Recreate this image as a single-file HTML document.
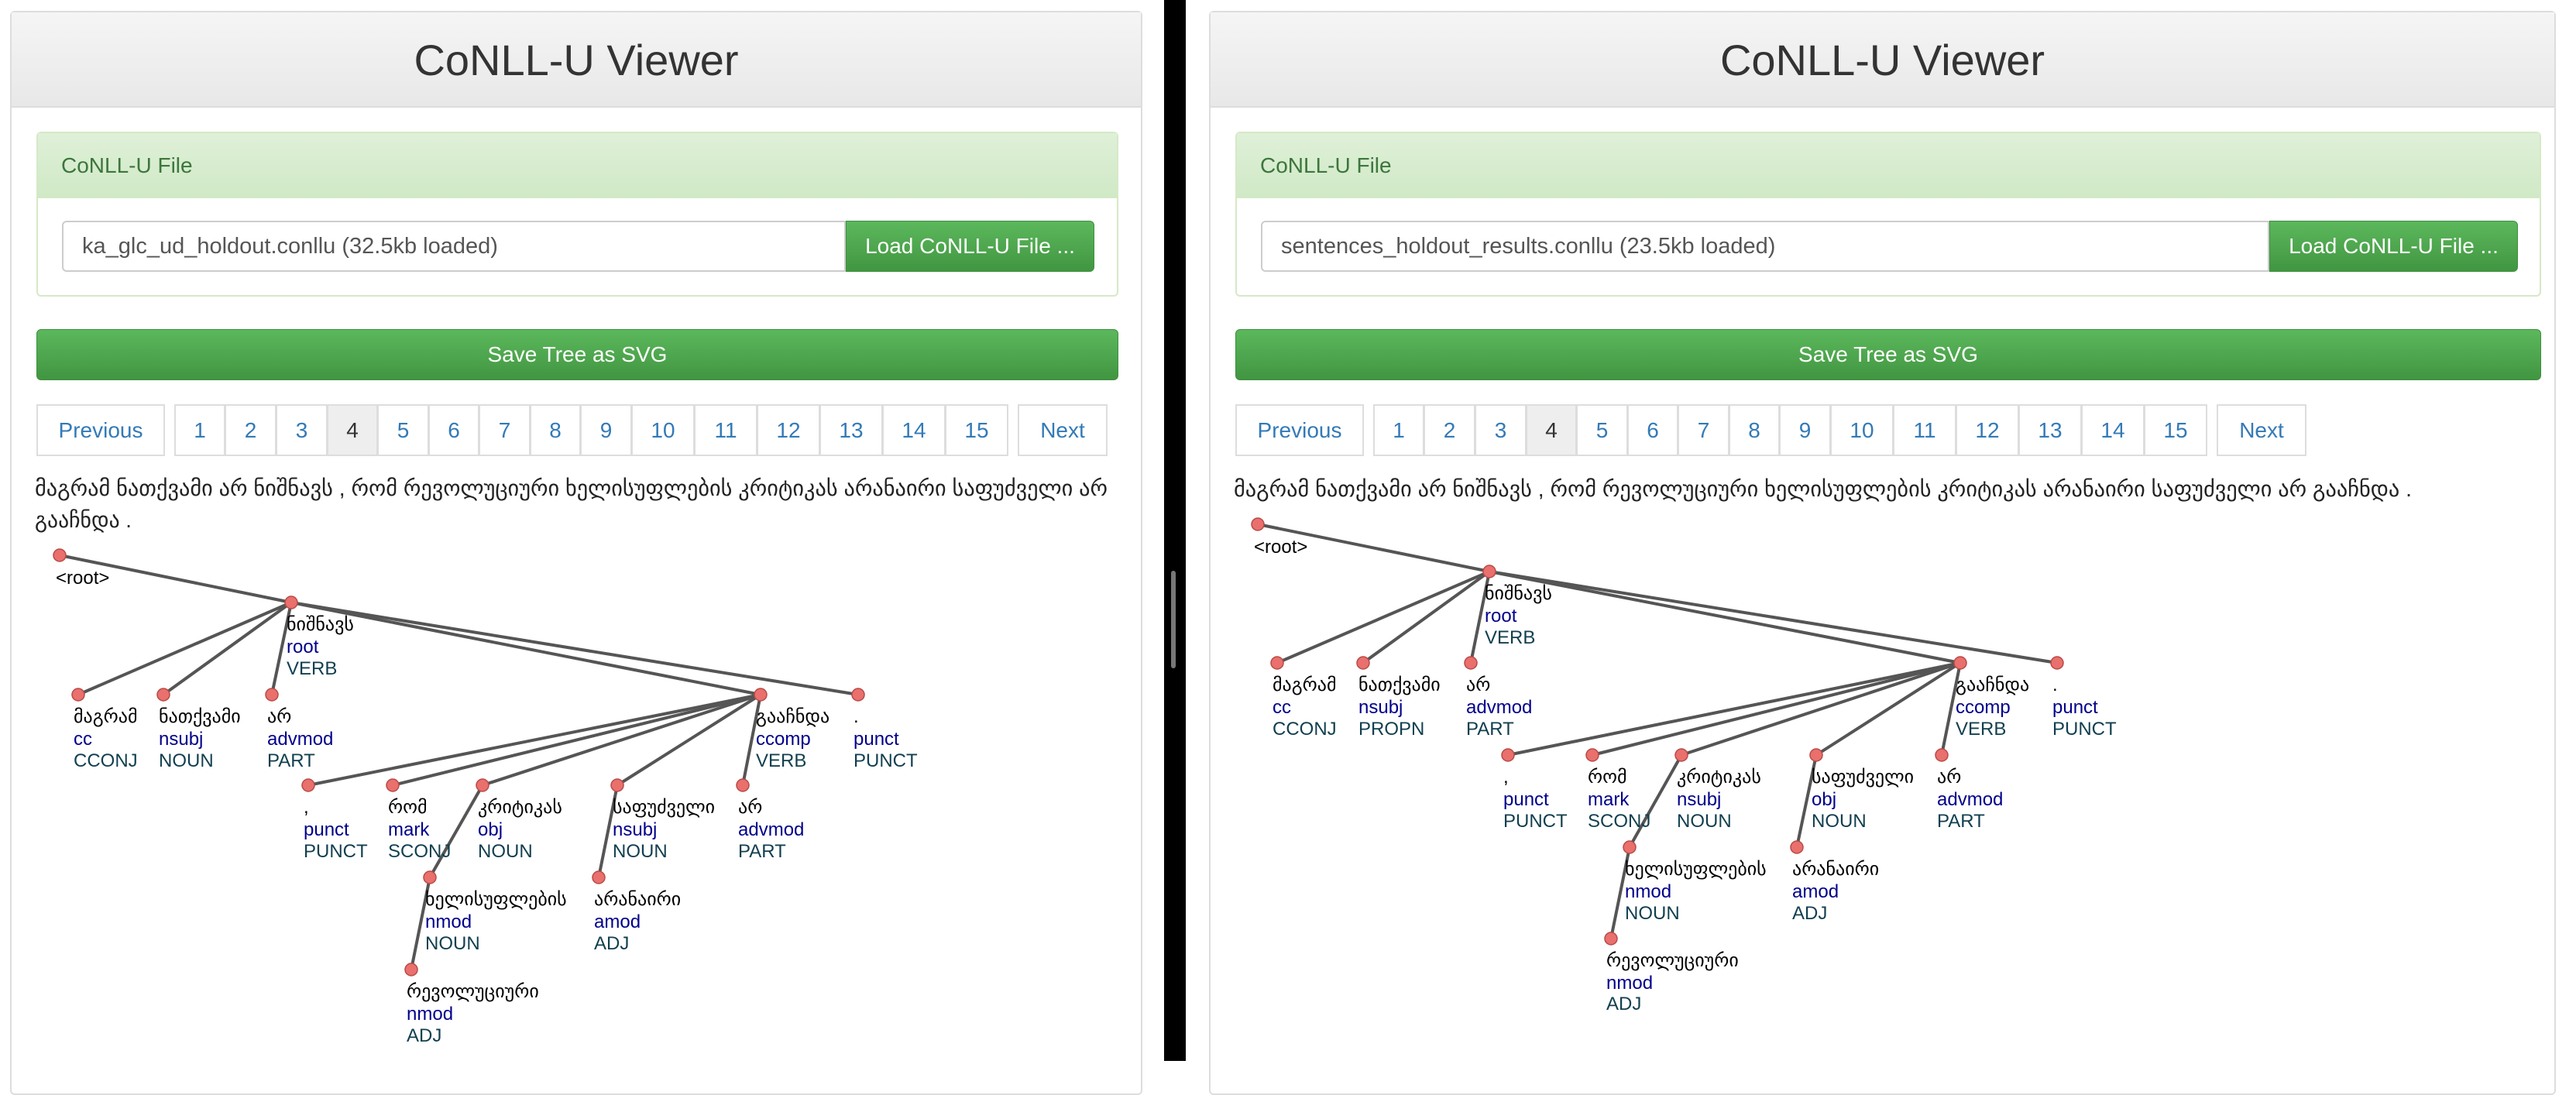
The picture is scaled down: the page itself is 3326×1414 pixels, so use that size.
<!DOCTYPE html>
<html><head><meta charset="utf-8"><style>
*{box-sizing:border-box;margin:0;padding:0}
body{width:3326px;height:1370px;background:#fff;position:relative;overflow:hidden;font-family:"Liberation Sans","DejaVu Sans",sans-serif}
.pn{position:absolute;top:14px;height:1400px;border:2px solid #ddd;border-radius:6px;background:#fff}
.hd{position:absolute;left:0;right:0;top:0;height:123px;background:linear-gradient(#f5f5f5,#e8e8e8);border-bottom:2px solid #ddd;text-align:center;font-size:56px;line-height:123px;color:#333}
.gp{position:absolute;left:32px;top:154px;height:213px;border:2px solid #d6e9c6;border-radius:6px;background:#fff}
.gh{position:absolute;left:0;right:0;top:0;height:84px;background:linear-gradient(#dff0d8,#d0e9c6);color:#3c763d;font-size:28px;line-height:84px;padding-left:30px;border-bottom:1px solid #d6e9c6}
.in{position:absolute;left:31px;top:113px;height:66px;border:2px solid #ccc;border-radius:6px 0 0 6px;font-size:29px;line-height:62px;padding-left:24px;color:#555;background:#fff}
.lb{position:absolute;top:113px;height:66px;width:321px;background:linear-gradient(#5cb85c,#419641);border:1px solid #3e8f3e;border-radius:0 6px 6px 0;color:#fff;font-size:28px;line-height:64px;text-align:center}
.sv{position:absolute;left:32px;top:409px;height:66px;background:linear-gradient(#5cb85c,#419641);border:1px solid #3e8f3e;border-radius:6px;color:#fff;font-size:28px;line-height:64px;text-align:center}
.pg{position:absolute;top:506px;height:67px;border:2px solid #ddd;color:#337ab7;font-size:28px;line-height:63px;text-align:center;background:#fff}
</style></head><body>
<div style="position:absolute;left:1503px;top:0;width:28px;height:1370px;background:#000"></div>
<div style="position:absolute;left:1512px;top:737px;width:6px;height:126px;background:#777;border-radius:3px"></div>

<div class="pn" style="left:13px;width:1462px">
<div class="hd">CoNLL-U Viewer</div>
<div class="gp" style="width:1397px"><div class="gh">CoNLL-U File</div>
<div class="in" style="width:1012px">ka_glc_ud_holdout.conllu (32.5kb loaded)</div>
<div class="lb" style="left:1043px">Load CoNLL-U File ...</div></div>
<div class="sv" style="width:1397px">Save Tree as SVG</div>
<div class="pg" style="left:32px;width:166px">Previous</div>
<div class="pg" style="left:210px;width:66px">1</div><div class="pg" style="left:275px;width:67px">2</div><div class="pg" style="left:341px;width:67px">3</div><div class="pg" style="left:407px;width:66px;background:#eee;color:#333">4</div><div class="pg" style="left:472px;width:67px">5</div><div class="pg" style="left:538px;width:66px">6</div><div class="pg" style="left:603px;width:67px">7</div><div class="pg" style="left:669px;width:66px">8</div><div class="pg" style="left:734px;width:67px">9</div><div class="pg" style="left:800px;width:82px">10</div><div class="pg" style="left:881px;width:82px">11</div><div class="pg" style="left:962px;width:82px">12</div><div class="pg" style="left:1043px;width:82px">13</div><div class="pg" style="left:1124px;width:82px">14</div><div class="pg" style="left:1205px;width:82px">15</div>
<div class="pg" style="left:1299px;width:116px">Next</div>
</div>

<div class="pn" style="left:1561px;width:1739px">
<div class="hd">CoNLL-U Viewer</div>
<div class="gp" style="width:1686px"><div class="gh">CoNLL-U File</div>
<div class="in" style="width:1302px">sentences_holdout_results.conllu (23.5kb loaded)</div>
<div class="lb" style="left:1333px">Load CoNLL-U File ...</div></div>
<div class="sv" style="width:1686px">Save Tree as SVG</div>
<div class="pg" style="left:32px;width:166px">Previous</div>
<div class="pg" style="left:210px;width:66px">1</div><div class="pg" style="left:275px;width:67px">2</div><div class="pg" style="left:341px;width:67px">3</div><div class="pg" style="left:407px;width:66px;background:#eee;color:#333">4</div><div class="pg" style="left:472px;width:67px">5</div><div class="pg" style="left:538px;width:66px">6</div><div class="pg" style="left:603px;width:67px">7</div><div class="pg" style="left:669px;width:66px">8</div><div class="pg" style="left:734px;width:67px">9</div><div class="pg" style="left:800px;width:82px">10</div><div class="pg" style="left:881px;width:82px">11</div><div class="pg" style="left:962px;width:82px">12</div><div class="pg" style="left:1043px;width:82px">13</div><div class="pg" style="left:1124px;width:82px">14</div><div class="pg" style="left:1205px;width:82px">15</div>
<div class="pg" style="left:1299px;width:116px">Next</div>
</div>

<svg style="position:absolute;left:0;top:0" width="3326" height="1370" font-family="Liberation Sans, DejaVu Sans, sans-serif">
<g font-size="28" fill="#222">
<text x="45" y="640" textLength="1385" lengthAdjust="spacingAndGlyphs">მაგრამ ნათქვამი არ ნიშნავს , რომ რევოლუციური ხელისუფლების კრიტიკას არანაირი საფუძველი არ</text>
<text x="45" y="681" textLength="125" lengthAdjust="spacingAndGlyphs">გააჩნდა .</text>
<text x="1593" y="641" textLength="1521" lengthAdjust="spacingAndGlyphs">მაგრამ ნათქვამი არ ნიშნავს , რომ რევოლუციური ხელისუფლების კრიტიკას არანაირი საფუძველი არ გააჩნდა .</text>
</g>
<g stroke="#555" stroke-width="4">
<line x1="77" y1="717" x2="376" y2="778"/>
<line x1="376" y1="778" x2="101" y2="897"/><line x1="376" y1="778" x2="211" y2="897"/><line x1="376" y1="778" x2="351" y2="897"/><line x1="376" y1="778" x2="982" y2="897"/><line x1="376" y1="778" x2="1108" y2="897"/>
<line x1="982" y1="897" x2="398" y2="1014"/><line x1="982" y1="897" x2="507" y2="1014"/><line x1="982" y1="897" x2="623" y2="1014"/><line x1="982" y1="897" x2="797" y2="1014"/><line x1="982" y1="897" x2="959" y2="1014"/>
<line x1="623" y1="1014" x2="555" y2="1133"/><line x1="555" y1="1133" x2="531" y2="1252"/><line x1="797" y1="1014" x2="773" y2="1133"/>
</g>
<g stroke="#555" stroke-width="4">
<line x1="1624" y1="677" x2="1923" y2="738"/>
<line x1="1923" y1="738" x2="1649" y2="856"/><line x1="1923" y1="738" x2="1760" y2="856"/><line x1="1923" y1="738" x2="1899" y2="856"/><line x1="1923" y1="738" x2="2531" y2="856"/><line x1="1923" y1="738" x2="2656" y2="856"/>
<line x1="2531" y1="856" x2="1947" y2="975"/><line x1="2531" y1="856" x2="2056" y2="975"/><line x1="2531" y1="856" x2="2171" y2="975"/><line x1="2531" y1="856" x2="2345" y2="975"/><line x1="2531" y1="856" x2="2507" y2="975"/>
<line x1="2171" y1="975" x2="2104" y2="1094"/><line x1="2104" y1="1094" x2="2080" y2="1212"/><line x1="2345" y1="975" x2="2320" y2="1094"/>
</g>
<g fill="#e9706c" stroke="#b84a47" stroke-width="1.5">
<circle cx="77" cy="717" r="8"/><circle cx="376" cy="778" r="8"/><circle cx="101" cy="897" r="8"/><circle cx="211" cy="897" r="8"/><circle cx="351" cy="897" r="8"/><circle cx="982" cy="897" r="8"/><circle cx="1108" cy="897" r="8"/><circle cx="398" cy="1014" r="8"/><circle cx="507" cy="1014" r="8"/><circle cx="623" cy="1014" r="8"/><circle cx="797" cy="1014" r="8"/><circle cx="959" cy="1014" r="8"/><circle cx="555" cy="1133" r="8"/><circle cx="773" cy="1133" r="8"/><circle cx="531" cy="1252" r="8"/>
<circle cx="1624" cy="677" r="8"/><circle cx="1923" cy="738" r="8"/><circle cx="1649" cy="856" r="8"/><circle cx="1760" cy="856" r="8"/><circle cx="1899" cy="856" r="8"/><circle cx="2531" cy="856" r="8"/><circle cx="2656" cy="856" r="8"/><circle cx="1947" cy="975" r="8"/><circle cx="2056" cy="975" r="8"/><circle cx="2171" cy="975" r="8"/><circle cx="2345" cy="975" r="8"/><circle cx="2507" cy="975" r="8"/><circle cx="2104" cy="1094" r="8"/><circle cx="2320" cy="1094" r="8"/><circle cx="2080" cy="1212" r="8"/>
</g>
<g font-size="24">
<text x="72" y="754" fill="#000">&lt;root&gt;</text>
<text x="1619" y="714" fill="#000">&lt;root&gt;</text>
</g>
<g font-size="24">
<g fill="#000">
<text x="370" y="814">ნიშნავს</text><text x="95" y="933">მაგრამ</text><text x="205" y="933">ნათქვამი</text><text x="345" y="933">არ</text><text x="976" y="933">გააჩნდა</text><text x="1102" y="933">.</text>
<text x="392" y="1050">,</text><text x="501" y="1050">რომ</text><text x="617" y="1050">კრიტიკას</text><text x="791" y="1050">საფუძველი</text><text x="953" y="1050">არ</text>
<text x="549" y="1169">ხელისუფლების</text><text x="767" y="1169">არანაირი</text><text x="525" y="1288">რევოლუციური</text>
<text x="1917" y="774">ნიშნავს</text><text x="1643" y="892">მაგრამ</text><text x="1754" y="892">ნათქვამი</text><text x="1893" y="892">არ</text><text x="2525" y="892">გააჩნდა</text><text x="2650" y="892">.</text>
<text x="1941" y="1011">,</text><text x="2050" y="1011">რომ</text><text x="2165" y="1011">კრიტიკას</text><text x="2339" y="1011">საფუძველი</text><text x="2501" y="1011">არ</text>
<text x="2098" y="1130">ხელისუფლების</text><text x="2314" y="1130">არანაირი</text><text x="2074" y="1248">რევოლუციური</text>
</g>
<g fill="#00008b">
<text x="370" y="843">root</text><text x="95" y="962">cc</text><text x="205" y="962">nsubj</text><text x="345" y="962">advmod</text><text x="976" y="962">ccomp</text><text x="1102" y="962">punct</text>
<text x="392" y="1079">punct</text><text x="501" y="1079">mark</text><text x="617" y="1079">obj</text><text x="791" y="1079">nsubj</text><text x="953" y="1079">advmod</text>
<text x="549" y="1198">nmod</text><text x="767" y="1198">amod</text><text x="525" y="1317">nmod</text>
<text x="1917" y="803">root</text><text x="1643" y="921">cc</text><text x="1754" y="921">nsubj</text><text x="1893" y="921">advmod</text><text x="2525" y="921">ccomp</text><text x="2650" y="921">punct</text>
<text x="1941" y="1040">punct</text><text x="2050" y="1040">mark</text><text x="2165" y="1040">nsubj</text><text x="2339" y="1040">obj</text><text x="2501" y="1040">advmod</text>
<text x="2098" y="1159">nmod</text><text x="2314" y="1159">amod</text><text x="2074" y="1277">nmod</text>
</g>
<g fill="#113f4f">
<text x="370" y="871">VERB</text><text x="95" y="990">CCONJ</text><text x="205" y="990">NOUN</text><text x="345" y="990">PART</text><text x="976" y="990">VERB</text><text x="1102" y="990">PUNCT</text>
<text x="392" y="1107">PUNCT</text><text x="501" y="1107">SCONJ</text><text x="617" y="1107">NOUN</text><text x="791" y="1107">NOUN</text><text x="953" y="1107">PART</text>
<text x="549" y="1226">NOUN</text><text x="767" y="1226">ADJ</text><text x="525" y="1345">ADJ</text>
<text x="1917" y="831">VERB</text><text x="1643" y="949">CCONJ</text><text x="1754" y="949">PROPN</text><text x="1893" y="949">PART</text><text x="2525" y="949">VERB</text><text x="2650" y="949">PUNCT</text>
<text x="1941" y="1068">PUNCT</text><text x="2050" y="1068">SCONJ</text><text x="2165" y="1068">NOUN</text><text x="2339" y="1068">NOUN</text><text x="2501" y="1068">PART</text>
<text x="2098" y="1187">NOUN</text><text x="2314" y="1187">ADJ</text><text x="2074" y="1304">ADJ</text>
</g>
</g>
</svg>
</body></html>
